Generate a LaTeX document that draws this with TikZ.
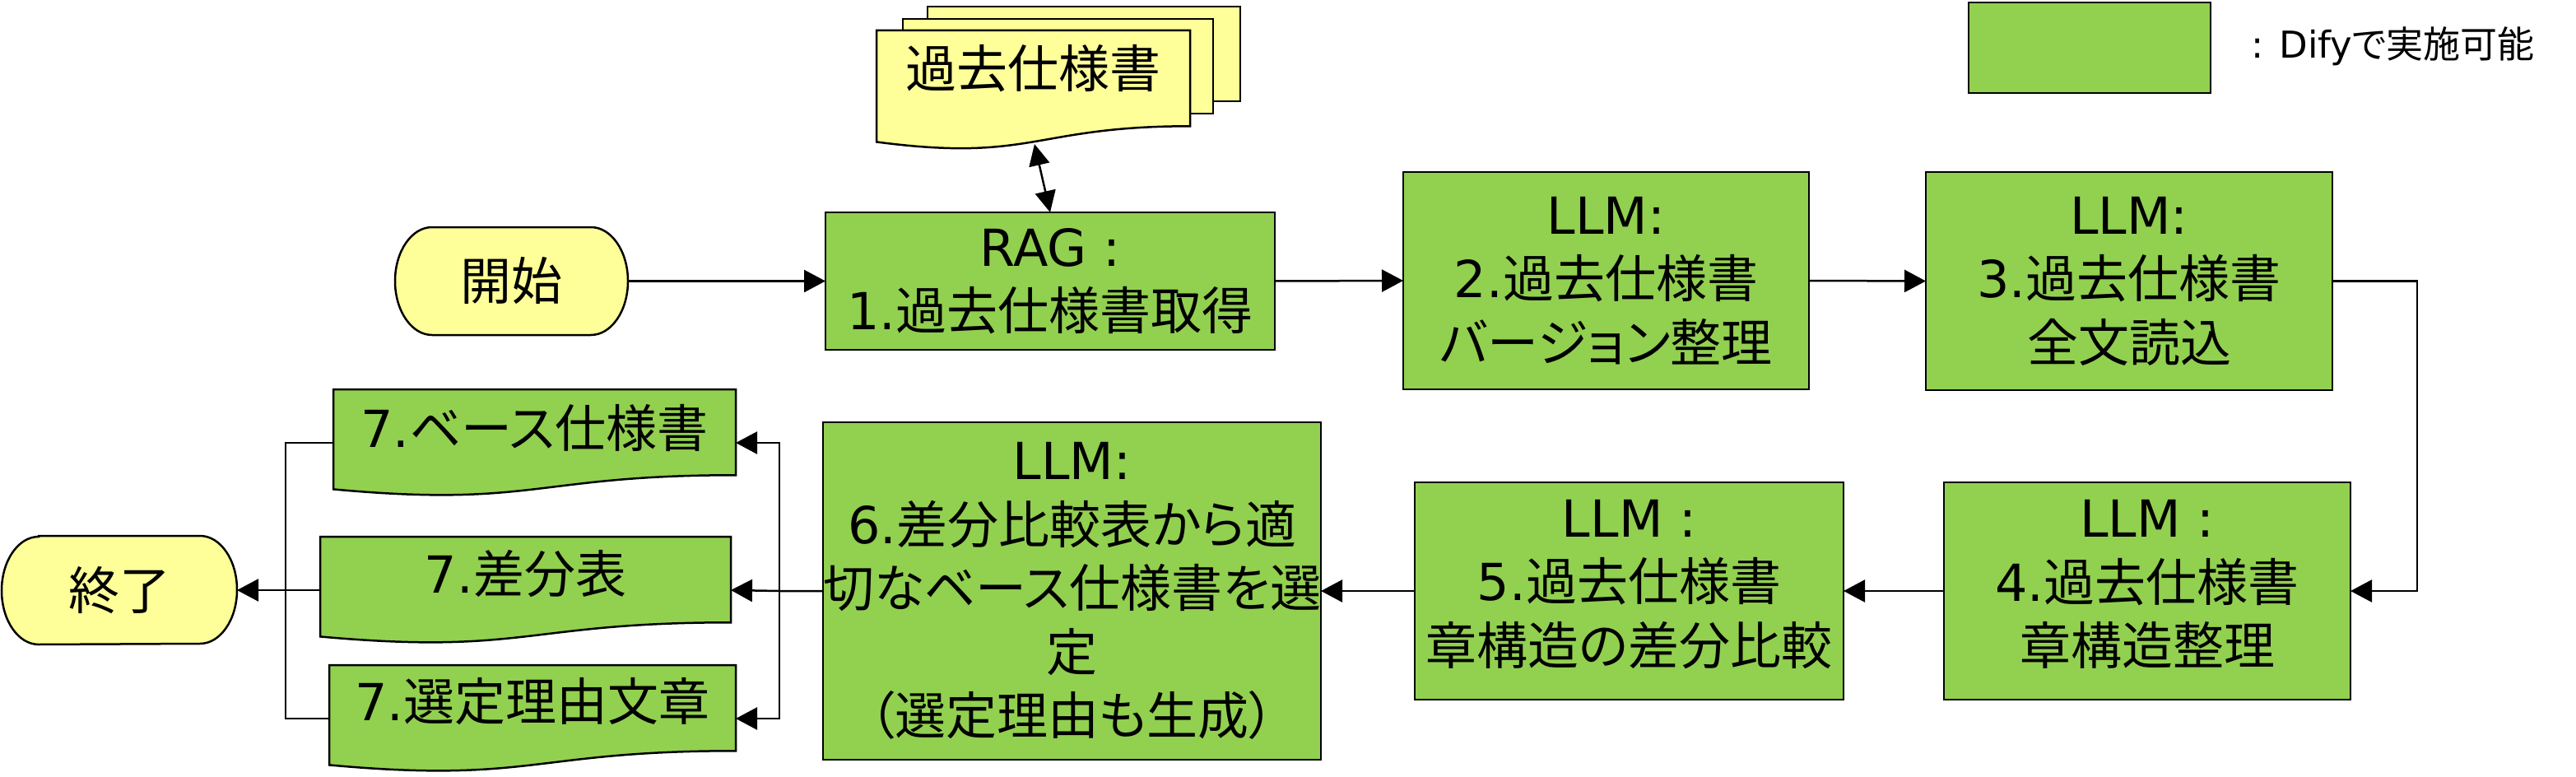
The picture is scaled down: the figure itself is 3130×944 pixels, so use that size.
\documentclass[tikz,border=0pt]{standalone}
\usepackage{fontspec}
\setmainfont{Noto Sans CJK JP}[RawFeature={+palt}]
\newfontfamily\lat{DejaVu Sans}
\usetikzlibrary{arrows.meta,calc}
\definecolor{lgreen}{HTML}{92D050}
\definecolor{lyellow}{HTML}{FFFF99}
\newcommand\boxfont{\fontsize{62}{77.5}\selectfont}
\newcommand\legfont{\fontsize{45}{54}\selectfont}
% document shape (flowchart document) around an empty node
\newcommand\mydoc[2]{\draw[docline,fill=#2] (#1.north west) -- (#1.north east) -- ($(#1.north east)!0.802!(#1.south east)$) .. controls ($(#1.north)!0.802!(#1.south)$) and ($(#1.north)!1.1075!(#1.south)$) .. ($(#1.north west)!0.934!(#1.south west)$) -- cycle;}
% terminator shape around an empty node
\newcommand\myterm[1]{\draw[docline,fill=lyellow] ($(#1.north west)+(45,0)$) -- ($(#1.north east)+(-45,0)$) arc[start angle=90,end angle=-90,x radius=45pt,y radius=65.5pt] -- ($(#1.south west)+(45,0)$) arc[start angle=270,end angle=90,x radius=45pt,y radius=65.5pt] -- cycle;}
\begin{document}
\begin{tikzpicture}[x=1pt,y=-1pt,
  box/.style={draw=black, line width=2.5pt, fill=lgreen, align=center, inner sep=0pt, outer sep=0pt, font=\boxfont},
  space/.style={inner sep=0pt, outer sep=0pt},
  docline/.style={draw=black, line width=2.5pt, line join=miter},
  txt/.style={align=center, inner sep=0pt, font=\boxfont},
  conn/.style={line width=2.5pt, draw=black},
  arr/.style={conn, -{Triangle[length=26pt,width=27pt]}},
  dblarr/.style={conn, {Triangle[length=26pt,width=25pt]}-{Triangle[length=26pt,width=25pt]}}
]
\useasboundingbox[fill=white] (0,0) rectangle (3130,944);

% legend
\node[box, minimum width=294pt, minimum height=110pt] (leg) at (2539,58) {};
\node[anchor=west, inner sep=0pt, font=\legfont] (legtxt) at (2735,56) {{\lat : Dify}で実施可能};

% stacked past specifications
\draw[docline, fill=lyellow] (1127,8) rectangle (1507,123);
\draw[docline, fill=lyellow] (1097,23) rectangle (1474,138);
\node[space, minimum width=381pt, minimum height=145pt] (past) at (1255.5,109.5) {};
\mydoc{past}{lyellow}
\node[txt] (pastt) at ($(past.center)+(0,-26)$) {過去仕様書};

% start terminator
\node[space, minimum width=283pt, minimum height=131pt] (start) at (621.5,341.5) {};
\myterm{start}
\node[txt] (startt) at (start.center) {開始};

% process boxes
\node[box, minimum width=546pt, minimum height=167pt] (rag) at (1276,341.5) {{\lat RAG :}\\{\lat 1.}過去仕様書取得};
\node[box, minimum width=493pt, minimum height=264pt] (b2) at (1951.5,341) {{\lat LLM:}\\{\lat 2.}過去仕様書\\バージョン整理};
\node[box, minimum width=494pt, minimum height=265pt] (b3) at (2587,341.5) {{\lat LLM:}\\{\lat 3.}過去仕様書\\全文読込};
\node[box, minimum width=494pt, minimum height=264pt] (b4) at (2609,718) {};
\node[txt] (b4t) at ($(b4.center)+(0,-8)$) {{\lat LLM :}\\{\lat 4.}過去仕様書\\章構造整理};
\node[box, minimum width=521pt, minimum height=264pt] (b5) at (1979.5,718) {};
\node[txt] (b5t) at ($(b5.center)+(0,-8)$) {{\lat LLM :}\\{\lat 5.}過去仕様書\\章構造の差分比較};
\node[box, minimum width=605pt, minimum height=410pt] (b6) at (1302.5,718) {{\lat LLM:}\\{\lat 6.}差分比較表から適\\切なベース仕様書を選\\定\\（選定理由も生成）};

% output documents
\node[space, minimum width=489pt, minimum height=130pt] (d7a) at (649.5,538) {};
\mydoc{d7a}{lgreen}
\node[txt] (d7at) at ($(d7a.center)+(0,-18)$) {{\lat 7.}ベース仕様書};
\node[space, minimum width=499pt, minimum height=130pt] (d7b) at (638.5,717) {};
\mydoc{d7b}{lgreen}
\node[txt] (d7bt) at ($(d7b.center)+(0,-20)$) {{\lat 7.}差分表};
\node[space, minimum width=494pt, minimum height=130pt] (d7c) at (647,873) {};
\mydoc{d7c}{lgreen}
\node[txt] (d7ct) at ($(d7c.center)+(0,-21)$) {{\lat 7.}選定理由文章};

% end terminator
\node[space, minimum width=286pt, minimum height=132pt] (end) at (145,717) {};
\myterm{end}
\node[txt] (endt) at (end.center) {終了};

% connectors
\draw[dblarr] ($(past.south)+(1.5,-7)$) -- (rag.north);
\draw[arr] (start.east) -- (rag.west);
\draw[arr] (rag.east) -- (b2.west);
\draw[arr] (b2.east) -- (b3.west);
\coordinate (c34) at (2937,341.5);
\draw[arr] (b3.east) -- (c34) |- (b4.east);
\draw[arr] (b4.west) -- (b5.east);
\draw[arr] (b5.west) -- (b6.east);
\coordinate (j6) at (947,718);
\draw[arr] (b6.west) -- (j6) -- (d7b.east);
\draw[arr] (j6) |- (d7a.east);
\draw[arr] (j6) |- (d7c.east);
\coordinate (j7) at (347,717);
\draw[conn] (d7a.west) -| (j7);
\draw[conn] (d7c.west) -| (j7);
\draw[arr] (d7b.west) -- (end.east);
\end{tikzpicture}
\end{document}
